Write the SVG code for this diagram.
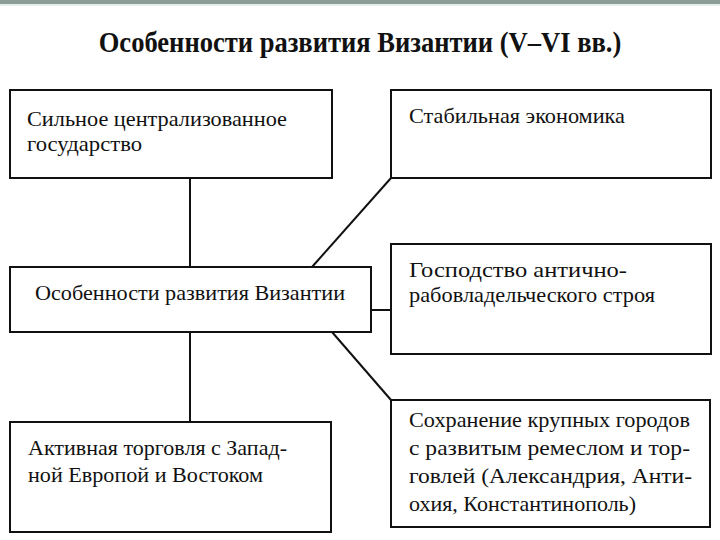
<svg xmlns="http://www.w3.org/2000/svg" width="720" height="540" viewBox="0 0 720 540">
<style>
.box{fill:#fff;stroke:#111;stroke-width:2}
.t{font-size:22px;fill:#111}
.title{font-size:30px;font-weight:bold;fill:#111}
.c{stroke:#111;stroke-width:2;fill:none}
</style>
<rect x="0" y="0" width="720" height="540" fill="#fff"/>
<rect x="0" y="0" width="720" height="4" fill="#8c9c96"/>
<rect x="0" y="4" width="720" height="2" fill="#e4eeea"/>
<text class="title" font-family="Liberation Serif, Times New Roman, serif" transform="translate(360,52) scale(0.885,1)" x="0" y="0" text-anchor="middle">Особенности развития Византии (V–VI вв.)</text>
<g id="connectors">
<line class="c" x1="190" y1="178" x2="190" y2="267"/>
<line class="c" x1="190" y1="332" x2="190" y2="422"/>
<line class="c" x1="312" y1="267" x2="391" y2="178"/>
<line class="c" x1="371" y1="310" x2="391" y2="310"/>
<line class="c" x1="332" y1="332" x2="391" y2="400"/>
</g>
<g font-family="Liberation Serif, Times New Roman, serif">
<g id="node-state">
<rect class="box" x="10" y="90" width="322" height="88"/>
<text class="t" x="27" y="126" textLength="260" lengthAdjust="spacingAndGlyphs">Сильное централизованное</text>
<text class="t" x="27" y="151" textLength="115" lengthAdjust="spacingAndGlyphs">государство</text>
</g>
<g id="node-economy">
<rect class="box" x="391" y="90" width="320" height="88"/>
<text class="t" x="409" y="123" textLength="216" lengthAdjust="spacingAndGlyphs">Стабильная экономика</text>
</g>
<g id="node-center">
<rect class="box" x="10" y="267" width="361" height="65"/>
<text class="t" x="35" y="300" textLength="310" lengthAdjust="spacingAndGlyphs">Особенности развития Византии</text>
</g>
<g id="node-slavery">
<rect class="box" x="391" y="244" width="320" height="110"/>
<text class="t" x="409" y="277" textLength="218" lengthAdjust="spacingAndGlyphs">Господство антично-</text>
<text class="t" x="409" y="302" textLength="246" lengthAdjust="spacingAndGlyphs">рабовладельческого строя</text>
</g>
<g id="node-trade">
<rect class="box" x="10" y="422" width="321" height="110"/>
<text class="t" x="28" y="455" textLength="259" lengthAdjust="spacingAndGlyphs">Активная торговля с Запад-</text>
<text class="t" x="28" y="482" textLength="235" lengthAdjust="spacingAndGlyphs">ной Европой и Востоком</text>
</g>
<g id="node-cities">
<rect class="box" x="391" y="400" width="319" height="127"/>
<text class="t" x="409" y="427" textLength="281" lengthAdjust="spacingAndGlyphs">Сохранение крупных городов</text>
<text class="t" x="409" y="455" textLength="281" lengthAdjust="spacingAndGlyphs">с развитым ремеслом и тор-</text>
<text class="t" x="409" y="483" textLength="283" lengthAdjust="spacingAndGlyphs">говлей (Александрия, Анти-</text>
<text class="t" x="409" y="511" textLength="227" lengthAdjust="spacingAndGlyphs">охия, Константинополь)</text>
</g>
</g>
</svg>
